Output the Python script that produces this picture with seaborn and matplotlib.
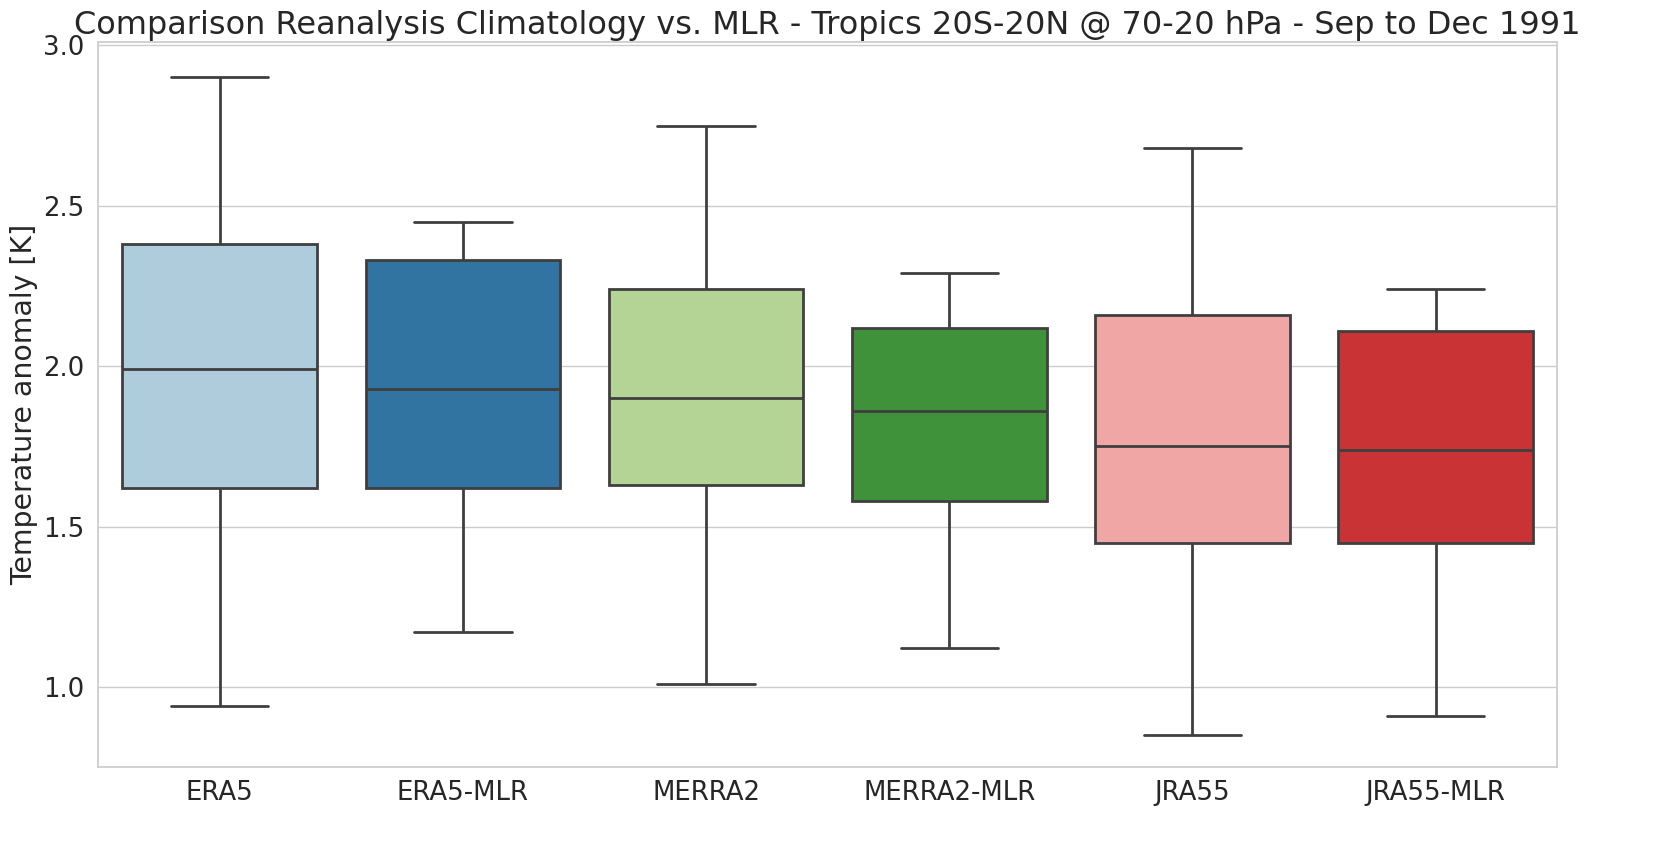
import numpy as np
import pandas as pd
import matplotlib
matplotlib.use("Agg")
import matplotlib.pyplot as plt
import seaborn as sns

datasets = ["ERA5", "ERA5-MLR", "MERRA2", "MERRA2-MLR", "JRA55", "JRA55-MLR"]
# five-number summaries: min, q1, median, q3, max
era5 = [0.94, 1.62, 1.99, 2.38, 2.90]
era5_mlr = [1.17, 1.62, 1.93, 2.33, 2.45]
merra2 = [1.01, 1.63, 1.90, 2.24, 2.75]
merra2_mlr = [1.12, 1.58, 1.86, 2.12, 2.29]
jra55 = [0.85, 1.45, 1.75, 2.16, 2.68]
jra55_mlr = [0.91, 1.45, 1.74, 2.11, 2.24]

values = [era5, era5_mlr, merra2, merra2_mlr, jra55, jra55_mlr]
df = pd.DataFrame({
    "dataset": np.repeat(datasets, 5),
    "anomaly": np.concatenate(values),
})

sns.set_theme(style="whitegrid", font_scale=1.7)
fig, ax = plt.subplots(figsize=(16.62, 8.6), dpi=100)
fig.subplots_adjust(left=0.059, right=0.937, top=0.951, bottom=0.108)

sns.boxplot(data=df, x="dataset", y="anomaly", hue="dataset",
            palette=sns.color_palette("Paired", 6), width=0.8,
            linewidth=2, linecolor="#3f3f3f", legend=False, ax=ax)

ax.set_ylim(0.75, 3.01)
ax.set_yticks([1.0, 1.5, 2.0, 2.5, 3.0])
ax.set_xlabel("")
ax.set_ylabel("Temperature anomaly [K]")
ax.set_title("Comparison Reanalysis Climatology vs. MLR - Tropics 20S-20N @ 70-20 hPa - Sep to Dec 1991",
             fontsize=23)

plt.savefig("out.png", dpi=100)
